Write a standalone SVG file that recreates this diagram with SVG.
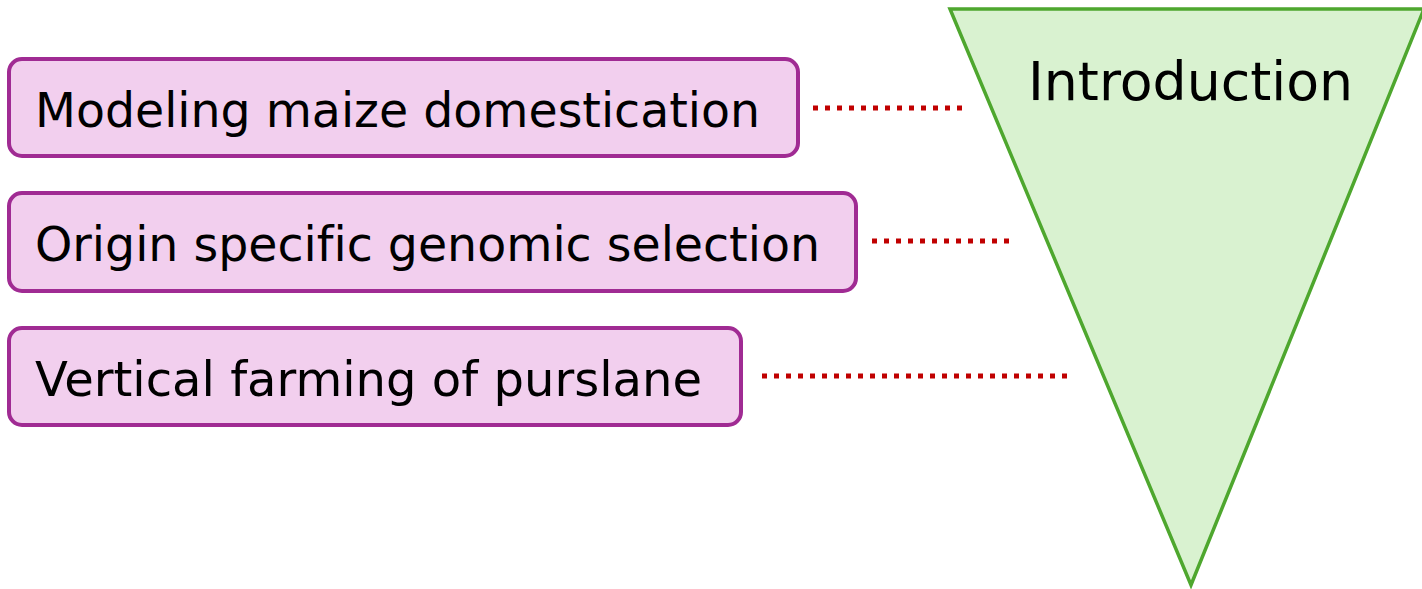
<svg xmlns="http://www.w3.org/2000/svg" width="1422" height="589" viewBox="0 0 1422 589">
<style>
.box{fill:#f2cfee;stroke:#a02b93;stroke-width:4}
.lbl{font-family:"DejaVu Sans",Verdana,sans-serif;font-size:48px;fill:#000;font-variant-ligatures:none}
.dot{stroke:#c00000;stroke-width:5;stroke-dasharray:5 7;fill:none}
</style>
<rect width="1422" height="589" fill="#fff"/>
<g id="funnel">
<polygon points="950,9 1424,9 1191,585" fill="#d9f2d0" stroke="#4ea72e" stroke-width="3.5" stroke-linejoin="miter"/>
<text class="lbl" x="1028" y="100" style="font-size:54px" textLength="325" lengthAdjust="spacingAndGlyphs">Introduction</text>
</g>
<g id="node1">
<rect class="box" x="9" y="59" width="789" height="97" rx="13"/>
<text class="lbl" x="35" y="127" textLength="725" lengthAdjust="spacingAndGlyphs">Modeling maize domestication</text>
</g>
<g id="node2">
<rect class="box" x="9" y="193" width="847" height="98" rx="13"/>
<text class="lbl" x="35" y="261" textLength="785" lengthAdjust="spacingAndGlyphs">Origin specific genomic selection</text>
</g>
<g id="node3">
<rect class="box" x="9" y="328" width="732" height="97" rx="13"/>
<text class="lbl" x="35" y="396" textLength="667" lengthAdjust="spacingAndGlyphs">Vertical farming of purslane</text>
</g>
<g id="connectors">
<line class="dot" x1="813" y1="108" x2="963" y2="108"/>
<line class="dot" x1="872" y1="241" x2="1012" y2="241"/>
<line class="dot" x1="762" y1="376" x2="1070" y2="376"/>
</g>
</svg>
